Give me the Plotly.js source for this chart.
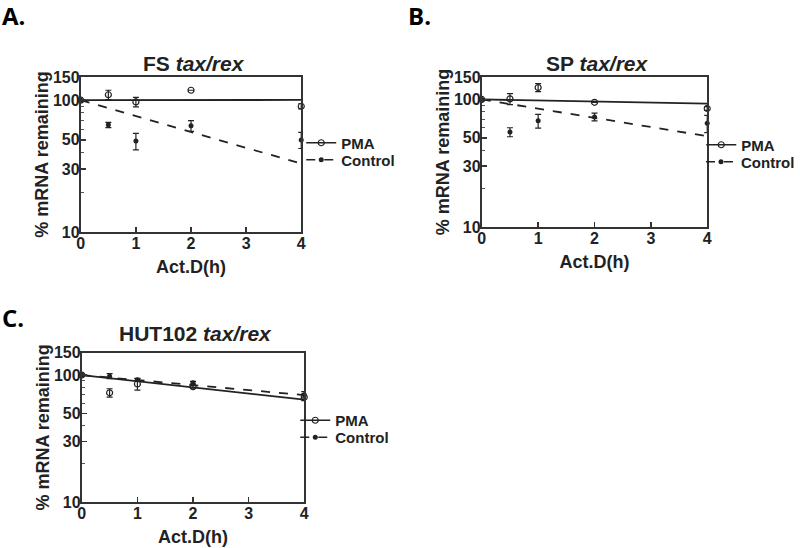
<!DOCTYPE html>
<html>
<head>
<meta charset="utf-8">
<script src="https://cdn.plot.ly/plotly-3.0.1.min.js"></script>
<style>
  html, body { margin: 0; padding: 0; background: #fff; }
  #chart { width: 800px; height: 548px; }
</style>
</head>
<body>
<div id="chart"></div>
<script>
// time points (h after Act.D)
const timePoints = [0, 0.5, 1, 2, 4];
const fitTimes = [0, 4];

// A. FS tax/rex
const fsPma = [100, 110, 97, 119, 90];
const fsPmaErr = [0, 9, 8, 0, 4];
const fsCtrl = [100, 65, 49, 64, 50];
const fsCtrlErr = [0, 3, 7, 6, 7];
const fsPmaFit = [100, 100.5];
const fsCtrlFit = [100, 33];

// B. SP tax/rex
const spPma = [100, 101, 124, 95, 85];
const spPmaErr = [0, 10, 9, 0, 3];
const spCtrl = [100, 55.5, 68, 73, 65];
const spCtrlErr = [0, 4.5, 8.5, 5, 10];
const spPmaFit = [100, 92.7];
const spCtrlFit = [100, 51.5];

// C. HUT102 tax/rex
const hutPma = [100, 72.5, 85, 81, 67];
const hutPmaErr = [0, 5.5, 9, 2, 4];
const hutCtrl = [100, 98, 91.7, 87, 70];
const hutCtrlErr = [0, 4.5, 2, 2, 4];
const hutPmaFit = [100, 64];
const hutCtrlFit = [100, 69.5];

const yTicks = [10, 30, 50, 100, 150];
const yMinorTicks = [20, 40, 60, 70, 80, 90];
const xTicks = [0, 1, 2, 3, 4];

const ink = '#222';
const fam = 'Arial, Liberation Sans, sans-serif';
const tickFont = { family: fam, size: 16, color: ink, weight: 'bold' };
const axisTitleFont = { family: fam, size: 18, color: ink, weight: 'bold' };

function panelTraces(pma, pmaErr, ctrl, ctrlErr, pmaFit, ctrlFit, xa, ya, pmaLegend, ctrlLegend) {
    const errStyle = (arr) => ({ type: 'data', array: arr, visible: true, color: ink, thickness: 1.2, width: 3 });
    return [
        // fitted decay lines
        { x: fitTimes, y: pmaFit, xaxis: xa, yaxis: ya, mode: 'lines', showlegend: false,
          line: { color: ink, width: 1.8 }, hoverinfo: 'skip' },
        { x: fitTimes, y: ctrlFit, xaxis: xa, yaxis: ya, mode: 'lines', showlegend: false,
          line: { color: ink, width: 1.8, dash: 'dash' }, hoverinfo: 'skip' },
        // measured points
        { x: timePoints, y: ctrl, xaxis: xa, yaxis: ya, mode: 'markers', showlegend: false, cliponaxis: false,
          marker: { symbol: 'circle', size: 5, color: ink }, error_y: errStyle(ctrlErr) },
        { x: timePoints, y: pma, xaxis: xa, yaxis: ya, mode: 'markers', showlegend: false, cliponaxis: false,
          marker: { symbol: 'circle-open', size: 6, color: ink, line: { width: 1.2, color: ink } }, error_y: errStyle(pmaErr) },
        // legend entries
        { x: [null], y: [null], xaxis: xa, yaxis: ya, mode: 'lines+markers', name: 'PMA', legend: pmaLegend,
          line: { color: ink, width: 1.5 }, marker: { symbol: 'circle-open', size: 6, color: ink, line: { width: 1.2 } } },
        { x: [null], y: [null], xaxis: xa, yaxis: ya, mode: 'lines+markers', name: 'Control', legend: ctrlLegend,
          line: { color: ink, width: 1.5, dash: 'dash' }, marker: { symbol: 'circle', size: 5, color: ink } }
    ];
}

const data = [].concat(
    panelTraces(fsPma, fsPmaErr, fsCtrl, fsCtrlErr, fsPmaFit, fsCtrlFit, 'x', 'y', 'legend', 'legend2'),
    panelTraces(spPma, spPmaErr, spCtrl, spCtrlErr, spPmaFit, spCtrlFit, 'x2', 'y2', 'legend3', 'legend4'),
    panelTraces(hutPma, hutPmaErr, hutCtrl, hutCtrlErr, hutPmaFit, hutCtrlFit, 'x3', 'y3', 'legend5', 'legend6')
);

function xAxis(domain, anchor) {
    return {
        domain: domain, anchor: anchor, range: [0, 4], tickvals: xTicks,
        showline: true, mirror: true, linecolor: '#333', linewidth: 2,
        ticks: 'inside', ticklen: 5, tickwidth: 1.5, tickcolor: '#333',
        ticklabelstandoff: -4,
        showgrid: false, zeroline: false, tickfont: tickFont,
        title: { text: 'Act.D(h)', font: axisTitleFont, standoff: 9 }
    };
}

function yAxis(domain, anchor) {
    return {
        domain: domain, anchor: anchor, type: 'log', range: [1, Math.log10(150)],
        tickvals: yTicks, ticktext: yTicks.map(String),
        showline: true, mirror: true, linecolor: '#333', linewidth: 2,
        ticks: 'inside', ticklen: 5, tickwidth: 1.5, tickcolor: '#333',
        ticklabelstandoff: -4,
        minor: { tickvals: yMinorTicks, ticks: 'inside', ticklen: 3, tickwidth: 1, tickcolor: '#555' },
        showgrid: false, zeroline: false, tickfont: tickFont,
        title: { text: '% mRNA remaining', font: axisTitleFont, standoff: 0 }
    };
}

// one legend per entry so each row sits where the reference puts it
function legendAt(xPx, yPx) {
    return {
        x: (xPx - 40) / 800, y: 1 - yPx / 548, xanchor: 'left', yanchor: 'middle', bgcolor: 'rgba(0,0,0,0)',
        font: { family: fam, size: 15, color: ink, weight: 'bold' },
        itemwidth: 30
    };
}

const titleFont = { family: fam, size: 21, color: ink, weight: 'bold' };
const labelFont = { family: 'Open Sans, sans-serif', size: 24, color: '#000', weight: 'bold' };

const layout = {
    width: 800, height: 548,
    margin: { l: 0, r: 0, t: 0, b: 0 },
    paper_bgcolor: '#fff', plot_bgcolor: '#fff',
    xaxis: xAxis([0.10125, 0.3775], 'y'),
    yaxis: yAxis([0.5766, 0.8595], 'x'),
    xaxis2: xAxis([0.60375, 0.88625], 'y2'),
    yaxis2: yAxis([0.5858, 0.8595], 'x2'),
    xaxis3: xAxis([0.1025, 0.38125], 'y3'),
    yaxis3: yAxis([0.0839, 0.3564], 'x3'),
    legend: legendAt(342, 143),
    legend2: legendAt(342, 160),
    legend3: legendAt(743, 145),
    legend4: legendAt(743, 162),
    legend5: legendAt(336, 420.5),
    legend6: legendAt(336, 437.5),
    annotations: [
        { text: 'A.', x: 0.0, y: 1 - 16 / 548, xref: 'paper', yref: 'paper', xanchor: 'left', yanchor: 'middle', showarrow: false, font: labelFont },
        { text: 'B.', x: 407 / 800, y: 1 - 16 / 548, xref: 'paper', yref: 'paper', xanchor: 'left', yanchor: 'middle', showarrow: false, font: labelFont },
        { text: 'C.', x: 0.0, y: 1 - 317 / 548, xref: 'paper', yref: 'paper', xanchor: 'left', yanchor: 'middle', showarrow: false, font: labelFont },
        { text: 'FS <i>tax/rex</i>', x: 194 / 800, y: 1 - 63 / 548, xref: 'paper', yref: 'paper', xanchor: 'center', yanchor: 'middle', showarrow: false, font: titleFont },
        { text: 'SP <i>tax/rex</i>', x: 599 / 800, y: 1 - 63 / 548, xref: 'paper', yref: 'paper', xanchor: 'center', yanchor: 'middle', showarrow: false, font: titleFont },
        { text: 'HUT102 <i>tax/rex</i>', x: 196 / 800, y: 1 - 333 / 548, xref: 'paper', yref: 'paper', xanchor: 'center', yanchor: 'middle', showarrow: false, font: titleFont }
    ]
};

Plotly.newPlot('chart', data, layout, { staticPlot: true });
</script>
</body>
</html>
